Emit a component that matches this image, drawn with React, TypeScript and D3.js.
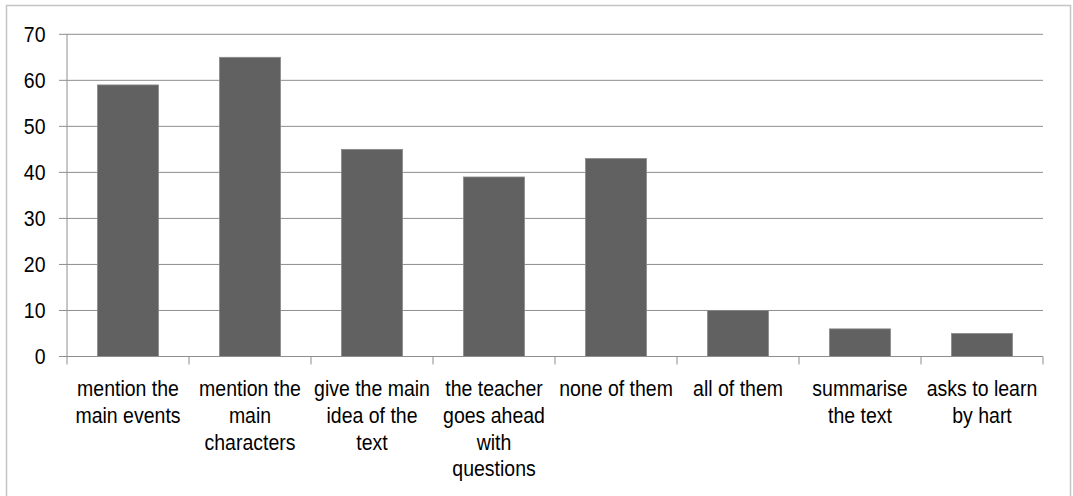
import React from "react";
import * as d3 from "d3";

const categories = [
  "mention the\nmain events",
  "mention the\nmain\ncharacters",
  "give the main\nidea of the\ntext",
  "the teacher\ngoes ahead\nwith\nquestions",
  "none of them",
  "all of them",
  "summarise\nthe text",
  "asks to learn\nby hart",
];
const values = [59, 65, 45, 39, 43, 10, 6, 5];
const yTicks = [0, 10, 20, 30, 40, 50, 60, 70];

export default function App() {
  const W = 1073, H = 496;
  const left = 67, right = 1043, top = 34.3, bottom = 356.5;
  const x = d3.scaleBand<string>().domain(categories).range([left, right]).paddingInner(0.5).paddingOuter(0.25);
  const xb = d3.scaleBand<string>().domain(categories).range([left, right]);
  const y = d3.scaleLinear().domain([0, 70]).range([bottom, top]);
  const font = "'Liberation Sans', Arial, sans-serif";
  const grid = "#8e8e8e";
  const fs = 19.5;
  const sy = 1.1;
  return (
    <div style={{ position: "absolute", left: 0, top: 0 }}>
      <svg width={W} height={H} style={{ display: "block" }}>
        <rect x={0} y={0} width={W} height={H} fill="#fff" />
        <rect x={6.5} y={5.5} width={1064} height={500} fill="#fff" stroke="#c4c4c4" strokeWidth={1.5} />
        {yTicks.map((t) => (
          <g key={t}>
            {t > 0 && <line x1={left} x2={right} y1={y(t)} y2={y(t)} stroke={grid} strokeWidth={1} />}
            <line x1={59} x2={left} y1={y(t)} y2={y(t)} stroke={grid} strokeWidth={1} />
            <g transform={`translate(45.5,${y(t)}) scale(1,${sy})`}>
              <text x={0} y={0} dy="0.35em" textAnchor="end" fontFamily={font} fontSize={fs} fill="#000">
                {t}
              </text>
            </g>
          </g>
        ))}
        {categories.map((c, i) => (
          <rect
            key={c}
            x={x(c)}
            y={y(values[i])}
            width={x.bandwidth()}
            height={y(0) - y(values[i])}
            fill="#616161"
            stroke="#8a8a8a"
            strokeWidth={0.8}
          />
        ))}
        <line x1={left} x2={left} y1={top} y2={bottom} stroke={grid} strokeWidth={1} />
        <line x1={left} x2={right} y1={bottom} y2={bottom} stroke={grid} strokeWidth={1} />
        {[...categories.map((c) => xb(c) as number), right].map((px, i) => (
          <line key={i} x1={px} x2={px} y1={bottom} y2={bottom + 8} stroke={grid} strokeWidth={1} />
        ))}
        {categories.map((c) => {
          const cx = (xb(c) as number) + xb.bandwidth() / 2;
          return (
            <g key={c}>
              {c.split("\n").map((ln, j) => (
                <g key={j} transform={`translate(${cx},${396 + j * 26.8}) scale(1,${sy})`}>
                  <text x={0} y={0} textAnchor="middle" fontFamily={font} fontSize={fs} fill="#000">
                    {ln}
                  </text>
                </g>
              ))}
            </g>
          );
        })}
      </svg>
    </div>
  );
}
